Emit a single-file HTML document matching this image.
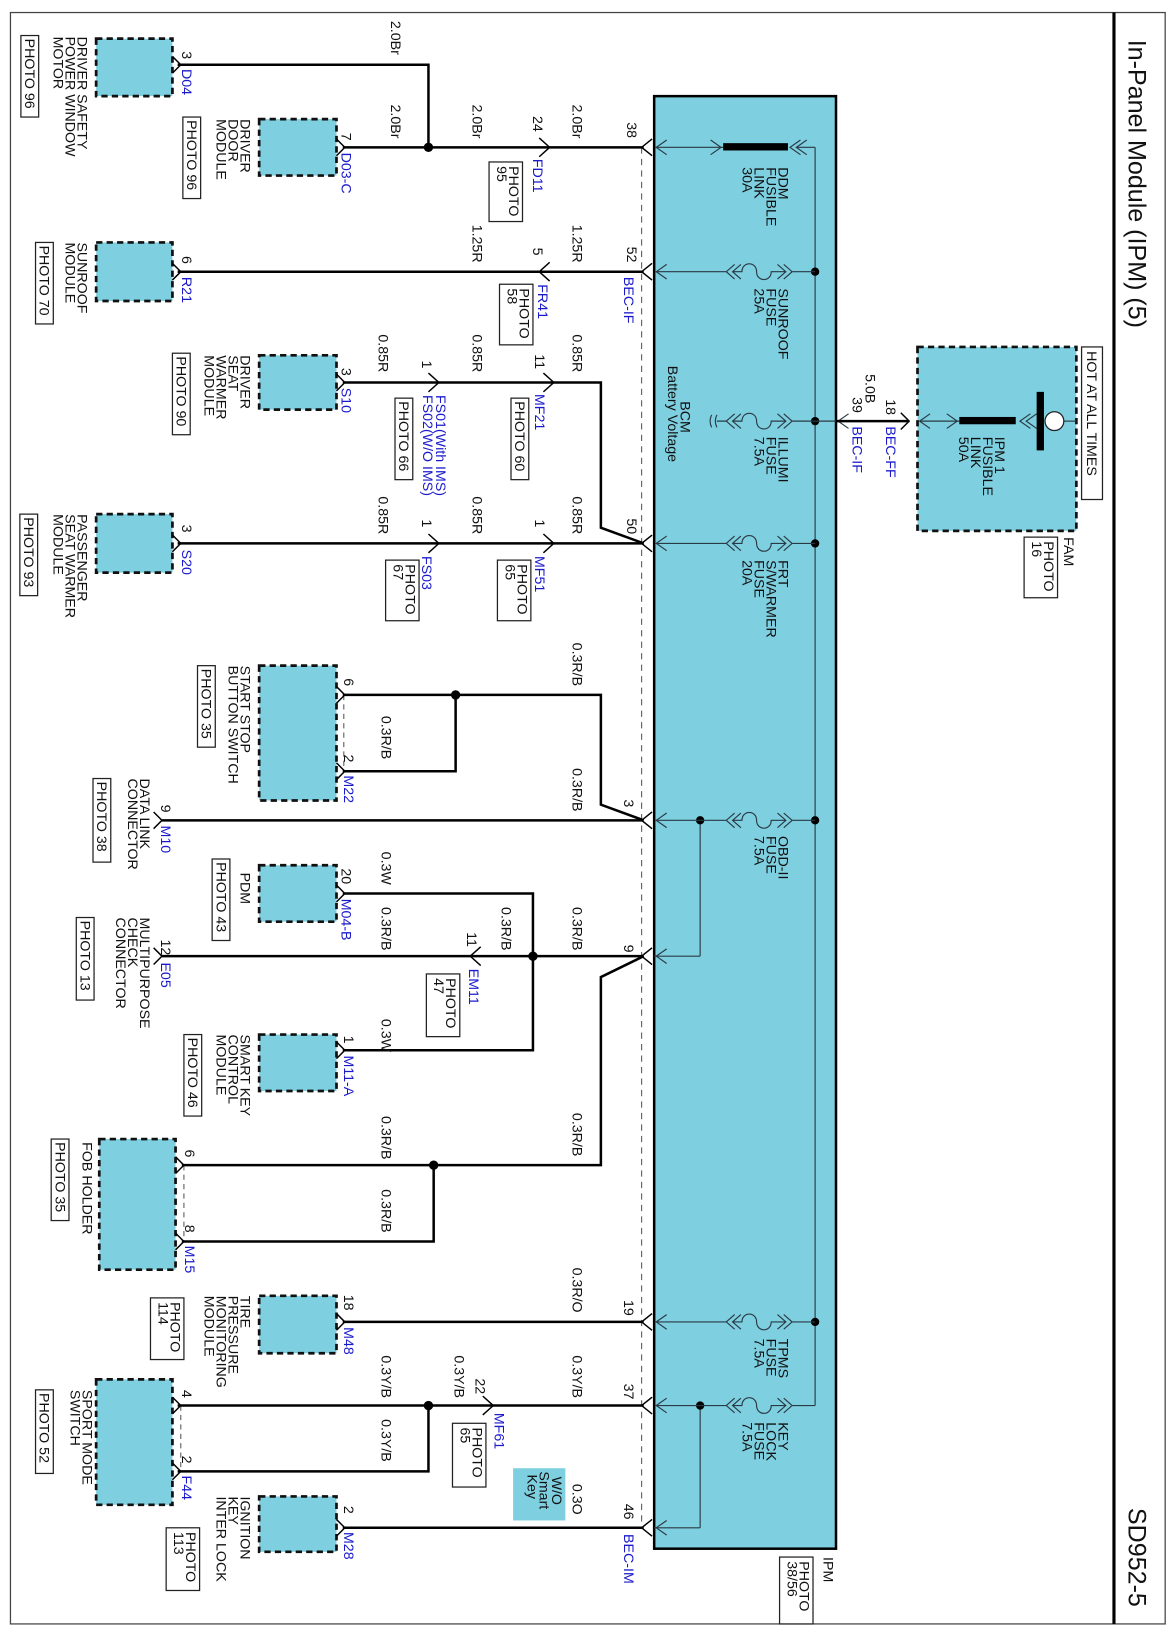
<!DOCTYPE html>
<html><head><meta charset="utf-8"><style>
html,body{margin:0;padding:0;background:#fff;}
svg{display:block;}
text{font-family:"Liberation Sans",sans-serif;font-size:13.6px;fill:#111;}
.b{fill:#1a1acc;}
.w{stroke:#000;stroke-width:2.4;fill:none;}
.tn{stroke:#2a3a44;stroke-width:1.1;fill:none;}
.bx{fill:#7ecfe0;stroke:#111;stroke-width:2.6;stroke-dasharray:6,4;}
.pb{fill:#fff;stroke:#222;stroke-width:1.2;}
.ch{stroke:#000;stroke-width:1.4;fill:none;}
</style></head><body>
<svg width="1172" height="1636" viewBox="0 0 1172 1636" xmlns="http://www.w3.org/2000/svg">
<rect x="0" y="0" width="1172" height="1636" fill="#fff"/>
<g transform="scale(1.045)">
<rect x="10" y="12" width="1105" height="1542" fill="none" stroke="#444" stroke-width="1.2"/>
<line x1="1066" y1="12" x2="1066" y2="1554" stroke="#000" stroke-width="3"/>
<text transform="translate(1080,38) rotate(90)" style="font-size:24px">In-Panel Module (IPM) (5)</text>
<text transform="translate(1080,1443) rotate(90)" style="font-size:24px">SD952-5</text>

<rect x="626" y="92" width="174" height="1390" fill="#7ecfe0" stroke="#000" stroke-width="2.4"/>
<line x1="614" y1="141" x2="614" y2="1462" stroke="#555" stroke-width="1" stroke-dasharray="6,5"/>
<line x1="780" y1="141" x2="780" y2="1345" class="tn"/>
<line x1="670" y1="785" x2="670" y2="915" class="tn"/>
<line x1="670" y1="1345" x2="670" y2="1462" class="tn"/>
<line x1="626" y1="915" x2="670" y2="915" class="tn"/>
<line x1="626" y1="1462" x2="670" y2="1462" class="tn"/>
<g fill="#000">
<circle cx="780" cy="260" r="4"/><circle cx="780" cy="403" r="4"/><circle cx="780" cy="520" r="4"/>
<circle cx="780" cy="785" r="4"/><circle cx="780" cy="1265" r="4"/>
<circle cx="670" cy="785" r="4"/><circle cx="670" cy="1345" r="4"/>
<circle cx="410" cy="141" r="4.5"/><circle cx="436" cy="665" r="4.5"/><circle cx="510" cy="915" r="4.5"/>
<circle cx="415" cy="1115" r="4.5"/><circle cx="410" cy="1345" r="4.5"/>
</g>
<g class="tn">
<polyline points="638,134 628,141 638,148"/><polyline points="638,253 628,260 638,267"/>
<polyline points="638,513 628,520 638,527"/><polyline points="638,778 628,785 638,792"/>
<polyline points="638,908 628,915 638,922"/><polyline points="638,1258 628,1265 638,1272"/>
<polyline points="638,1338 628,1345 638,1352"/><polyline points="638,1455 628,1462 638,1469"/>
</g>
<line x1="628" y1="141" x2="692" y2="141" class="tn"/>
<polyline class="tn" points="680,134 690,141 680,148"/>
<rect x="692" y="137" width="62" height="7" fill="#000"/>
<polyline class="tn" points="766,134 756,141 766,148"/><polyline class="tn" points="772,134 762,141 772,148"/>
<line x1="762" y1="141" x2="780" y2="141" class="tn"/>
<g class="tn">
<path d="M628,260 H695 M703,253 l-8,7 l8,7 M709,253 l-8,7 l8,7 M701,260 H710 C710,250 724,250 724,260 C724,270 738,270 738,260 H752 M744,253 l8,7 l-8,7 M750,253 l8,7 l-8,7 M758,260 H780"/>
<path d="M703,396 l-8,7 l8,7 M709,396 l-8,7 l8,7 M701,403 H710 C710,393 724,393 724,403 C724,413 738,413 738,403 H752 M744,396 l8,7 l-8,7 M750,396 l8,7 l-8,7 M758,403 H800"/>
<path d="M686,397 q-3,6 0,12 M681,397 q-3,6 0,12 M686,403 H695"/>
<path d="M628,520 H695 M703,513 l-8,7 l8,7 M709,513 l-8,7 l8,7 M701,520 H710 C710,510 724,510 724,520 C724,530 738,530 738,520 H752 M744,513 l8,7 l-8,7 M750,513 l8,7 l-8,7 M758,520 H780"/>
<path d="M628,785 H695 M703,778 l-8,7 l8,7 M709,778 l-8,7 l8,7 M701,785 H710 C710,775 724,775 724,785 C724,795 738,795 738,785 H752 M744,778 l8,7 l-8,7 M750,778 l8,7 l-8,7 M758,785 H780"/>
<path d="M628,1265 H695 M703,1258 l-8,7 l8,7 M709,1258 l-8,7 l8,7 M701,1265 H710 C710,1255 724,1255 724,1265 C724,1275 738,1275 738,1265 H752 M744,1258 l8,7 l-8,7 M750,1258 l8,7 l-8,7 M758,1265 H780"/>
<path d="M628,1345 H695 M703,1338 l-8,7 l8,7 M709,1338 l-8,7 l8,7 M701,1345 H710 C710,1335 724,1335 724,1345 C724,1355 738,1355 738,1345 H752 M744,1338 l8,7 l-8,7 M750,1338 l8,7 l-8,7 M758,1345 H780"/>
<polyline points="812,396 802,403 812,410"/>
</g>
<text transform="translate(745,160) rotate(90)"><tspan x="0">DDM</tspan><tspan x="0" dy="11.5">FUSIBLE</tspan><tspan x="0" dy="11.5">LINK</tspan><tspan x="0" dy="11.5">30A</tspan></text>
<text transform="translate(745,276) rotate(90)"><tspan x="0">SUNROOF</tspan><tspan x="0" dy="11.5">FUSE</tspan><tspan x="0" dy="11.5">25A</tspan></text>
<text transform="translate(745,418) rotate(90)"><tspan x="0">ILLUMI</tspan><tspan x="0" dy="11.5">FUSE</tspan><tspan x="0" dy="11.5">7.5A</tspan></text>
<text transform="translate(745,536) rotate(90)"><tspan x="0">FRT</tspan><tspan x="0" dy="11.5">S/WARMER</tspan><tspan x="0" dy="11.5">FUSE</tspan><tspan x="0" dy="11.5">20A</tspan></text>
<text transform="translate(745,800) rotate(90)"><tspan x="0">OBD-II</tspan><tspan x="0" dy="11.5">FUSE</tspan><tspan x="0" dy="11.5">7.5A</tspan></text>
<text transform="translate(745,1281) rotate(90)"><tspan x="0">TPMS</tspan><tspan x="0" dy="11.5">FUSE</tspan><tspan x="0" dy="11.5">7.5A</tspan></text>
<text transform="translate(745,1361) rotate(90)"><tspan x="0">KEY</tspan><tspan x="0" dy="11.5">LOCK</tspan><tspan x="0" dy="11.5">FUSE</tspan><tspan x="0" dy="11.5">7.5A</tspan></text>
<text transform="translate(651,384) rotate(90)">BCM</text>
<text transform="translate(639,350) rotate(90)">Battery Voltage</text>
<text transform="translate(788,1490) rotate(90)">IPM</text>
<rect class="pb" x="746" y="1490" width="32" height="64"/>
<text transform="translate(765,1494) rotate(90)"><tspan x="0">PHOTO</tspan><tspan x="0" dy="11.5">38/56</tspan></text>

<rect class="bx" x="878" y="332" width="152" height="176"/>
<line x1="800" y1="403" x2="870" y2="403" class="w"/>
<polyline class="ch" points="862,395 870,403 862,411"/>
<polyline class="tn" points="890,396 880,403 890,410"/>
<line x1="880" y1="403" x2="918" y2="403" class="tn"/>
<polyline class="tn" points="906,396 916,403 906,410"/>
<rect x="918" y="399" width="54" height="7" fill="#000"/>
<polyline class="tn" points="986,396 976,403 986,410"/><polyline class="tn" points="992,396 982,403 992,410"/>
<rect x="992" y="375" width="7" height="56" fill="#000"/>
<line x1="1018" y1="403" x2="1030" y2="403" class="tn"/>
<circle cx="1009" cy="403" r="9" fill="#fff" stroke="#222" stroke-width="1.2"/>
<text transform="translate(952,418) rotate(90)"><tspan x="0">IPM 1</tspan><tspan x="0" dy="11.5">FUSIBLE</tspan><tspan x="0" dy="11.5">LINK</tspan><tspan x="0" dy="11.5">50A</tspan></text>
<rect class="pb" x="1035" y="332" width="20" height="146"/>
<text transform="translate(1040,336) rotate(90)">HOT AT ALL TIMES</text>
<text transform="translate(1018,514) rotate(90)">FAM</text>
<rect class="pb" x="980" y="514" width="32" height="58"/>
<text transform="translate(999,518) rotate(90)"><tspan x="0">PHOTO</tspan><tspan x="0" dy="11.5">16</tspan></text>
<text transform="translate(848,382) rotate(90)">18</text>
<text transform="translate(848,408) rotate(90)" class="b">BEC-FF</text>
<text transform="translate(828,358) rotate(90)">5.0B</text>
<text transform="translate(816,380) rotate(90)">39</text>
<text transform="translate(816,408) rotate(90)" class="b">BEC-IF</text>

<rect class="bx" x="92" y="37" width="73" height="55"/>
<rect class="bx" x="248" y="114" width="74" height="54"/>
<rect class="bx" x="92" y="232" width="73" height="56"/>
<rect class="bx" x="248" y="340" width="74" height="52"/>
<rect class="bx" x="92" y="492" width="73" height="56"/>
<rect class="bx" x="248" y="637" width="74" height="129"/>
<rect class="bx" x="248" y="828" width="74" height="54"/>
<rect class="bx" x="248" y="990" width="74" height="54"/>
<rect class="bx" x="95" y="1090" width="73" height="125"/>
<rect class="bx" x="248" y="1240" width="74" height="55"/>
<rect class="bx" x="92" y="1320" width="73" height="120"/>
<rect class="bx" x="248" y="1432" width="74" height="53"/>
<g stroke="#555" stroke-width="1" stroke-dasharray="5,4">
<line x1="329" y1="665" x2="329" y2="738"/><line x1="176" y1="1115" x2="176" y2="1188"/><line x1="173" y1="1345" x2="173" y2="1408"/>
</g>

<g class="w">
<path d="M170,62 H410 V141"/>
<path d="M328,141 H616"/>
<path d="M170,260 H616"/>
<path d="M328,366 H575 V505 L616,520"/>
<path d="M170,520 H616"/>
<path d="M328,665 H575 V770 L616,785"/>
<path d="M328,738 H436 V665"/>
<path d="M155,785 H616"/>
<path d="M328,855 H510 V1005 H328"/>
<path d="M155,915 H616"/>
<path d="M616,915 L575,935 V1115 H174"/>
<path d="M174,1188 H415 V1115"/>
<path d="M328,1265 H616"/>
<path d="M170,1345 H616"/>
<path d="M170,1408 H410 V1345"/>
<path d="M328,1462 H616"/>
</g>
<g class="ch">
<polyline points="165,54 173,62 165,70"/><polyline points="322,133 330,141 322,149"/>
<polyline points="165,252 173,260 165,268"/><polyline points="322,358 330,366 322,374"/>
<polyline points="165,512 173,520 165,528"/><polyline points="322,657 330,665 322,673"/>
<polyline points="322,730 330,738 322,746"/><polyline points="147,777 155,785 147,793"/>
<polyline points="322,847 330,855 322,863"/><polyline points="147,907 155,915 147,923"/>
<polyline points="322,997 330,1005 322,1013"/><polyline points="168,1107 176,1115 168,1123"/>
<polyline points="168,1180 176,1188 168,1196"/><polyline points="322,1257 330,1265 322,1273"/>
<polyline points="165,1337 173,1345 165,1353"/><polyline points="165,1400 173,1408 165,1416"/>
<polyline points="322,1454 330,1462 322,1470"/>
<polyline points="624,133 614,141 624,149"/><polyline points="624,252 614,260 624,268"/>
<polyline points="624,512 614,520 624,528"/><polyline points="624,777 614,785 624,793"/>
<polyline points="624,907 614,915 624,923"/><polyline points="624,1257 614,1265 624,1273"/>
<polyline points="624,1337 614,1345 624,1353"/><polyline points="624,1454 614,1462 624,1470"/>
<polyline points="516,132 526,141 516,150"/>
<polyline points="526,251 516,260 526,269"/>
<polyline points="410,357 420,366 410,375"/>
<polyline points="520,357 530,366 520,375"/>
<polyline points="410,511 420,520 410,529"/>
<polyline points="520,511 530,520 520,529"/>
<polyline points="460,906 450,915 460,924"/>
<polyline points="462,1336 472,1345 462,1354"/>
</g>

<text transform="translate(374,20) rotate(90)">2.0Br</text>
<text transform="translate(374,100) rotate(90)">2.0Br</text>
<text transform="translate(452,100) rotate(90)">2.0Br</text>
<text transform="translate(548,100) rotate(90)">2.0Br</text>
<text transform="translate(452,215) rotate(90)">1.25R</text>
<text transform="translate(548,215) rotate(90)">1.25R</text>
<text transform="translate(362,320) rotate(90)">0.85R</text>
<text transform="translate(452,320) rotate(90)">0.85R</text>
<text transform="translate(548,320) rotate(90)">0.85R</text>
<text transform="translate(362,475) rotate(90)">0.85R</text>
<text transform="translate(452,475) rotate(90)">0.85R</text>
<text transform="translate(548,475) rotate(90)">0.85R</text>
<text transform="translate(548,615) rotate(90)">0.3R/B</text>
<text transform="translate(365,685) rotate(90)">0.3R/B</text>
<text transform="translate(548,735) rotate(90)">0.3R/B</text>
<text transform="translate(365,815) rotate(90)">0.3W</text>
<text transform="translate(365,868) rotate(90)">0.3R/B</text>
<text transform="translate(480,868) rotate(90)">0.3R/B</text>
<text transform="translate(548,868) rotate(90)">0.3R/B</text>
<text transform="translate(365,975) rotate(90)">0.3W</text>
<text transform="translate(548,1065) rotate(90)">0.3R/B</text>
<text transform="translate(365,1068) rotate(90)">0.3R/B</text>
<text transform="translate(365,1138) rotate(90)">0.3R/B</text>
<text transform="translate(548,1213) rotate(90)">0.3R/O</text>
<text transform="translate(365,1297) rotate(90)">0.3Y/B</text>
<text transform="translate(435,1297) rotate(90)">0.3Y/B</text>
<text transform="translate(548,1297) rotate(90)">0.3Y/B</text>
<text transform="translate(365,1358) rotate(90)">0.3Y/B</text>
<text transform="translate(548,1420) rotate(90)">0.3O</text>

<text transform="translate(174,49) rotate(90)">3</text>
<text transform="translate(327,127) rotate(90)">7</text>
<text transform="translate(510,111) rotate(90)">24</text>
<text transform="translate(600,117) rotate(90)">38</text>
<text transform="translate(174,245) rotate(90)">6</text>
<text transform="translate(510,237) rotate(90)">5</text>
<text transform="translate(600,236) rotate(90)">52</text>
<text transform="translate(327,352) rotate(90)">3</text>
<text transform="translate(404,345) rotate(90)">1</text>
<text transform="translate(512,339) rotate(90)">11</text>
<text transform="translate(600,496) rotate(90)">50</text>
<text transform="translate(174,502) rotate(90)">3</text>
<text transform="translate(404,497) rotate(90)">1</text>
<text transform="translate(512,497) rotate(90)">1</text>
<text transform="translate(329,649) rotate(90)">6</text>
<text transform="translate(329,722) rotate(90)">2</text>
<text transform="translate(154,770) rotate(90)">9</text>
<text transform="translate(597,765) rotate(90)">3</text>
<text transform="translate(327,831) rotate(90)">20</text>
<text transform="translate(447,892) rotate(90)">11</text>
<text transform="translate(154,899) rotate(90)">12</text>
<text transform="translate(597,904) rotate(90)">9</text>
<text transform="translate(329,991) rotate(90)">1</text>
<text transform="translate(177,1100) rotate(90)">6</text>
<text transform="translate(177,1172) rotate(90)">8</text>
<text transform="translate(329,1239) rotate(90)">18</text>
<text transform="translate(597,1244) rotate(90)">19</text>
<text transform="translate(174,1330) rotate(90)">4</text>
<text transform="translate(174,1393) rotate(90)">2</text>
<text transform="translate(455,1319) rotate(90)">22</text>
<text transform="translate(597,1324) rotate(90)">37</text>
<text transform="translate(329,1441) rotate(90)">2</text>
<text transform="translate(597,1439) rotate(90)">46</text>

<g>
<text class="b" transform="translate(174,66) rotate(90)">D04</text>
<text class="b" transform="translate(327,146) rotate(90)">D03-C</text>
<text class="b" transform="translate(510,152) rotate(90)">FD11</text>
<text class="b" transform="translate(174,265) rotate(90)">R21</text>
<text class="b" transform="translate(515,272) rotate(90)">FR41</text>
<text class="b" transform="translate(597,265) rotate(90)">BEC-IF</text>
<text class="b" transform="translate(327,371) rotate(90)">S10</text>
<text class="b" transform="translate(417,378) rotate(90)">FS01(With IMS)</text>
<text class="b" transform="translate(405,378) rotate(90)">FS02(W/O IMS)</text>
<text class="b" transform="translate(512,377) rotate(90)">MF21</text>
<text class="b" transform="translate(174,526) rotate(90)">S20</text>
<text class="b" transform="translate(404,532) rotate(90)">FS03</text>
<text class="b" transform="translate(512,532) rotate(90)">MF51</text>
<text class="b" transform="translate(329,742) rotate(90)">M22</text>
<text class="b" transform="translate(154,790) rotate(90)">M10</text>
<text class="b" transform="translate(327,860) rotate(90)">M04-B</text>
<text class="b" transform="translate(449,927) rotate(90)">EM11</text>
<text class="b" transform="translate(154,921) rotate(90)">E05</text>
<text class="b" transform="translate(329,1010) rotate(90)">M11-A</text>
<text class="b" transform="translate(177,1192) rotate(90)">M15</text>
<text class="b" transform="translate(329,1270) rotate(90)">M48</text>
<text class="b" transform="translate(174,1412) rotate(90)">F44</text>
<text class="b" transform="translate(473,1352) rotate(90)">MF61</text>
<text class="b" transform="translate(329,1466) rotate(90)">M28</text>
<text class="b" transform="translate(597,1468) rotate(90)">BEC-IM</text>
</g>

<text transform="translate(74,35) rotate(90)"><tspan x="0">DRIVER SAFETY</tspan><tspan x="0" dy="11.5">POWER WINDOW</tspan><tspan x="0" dy="11.5">MOTOR</tspan></text>
<rect class="pb" x="20" y="34" width="17" height="78"/><text transform="translate(24,37) rotate(90)">PHOTO 96</text>

<text transform="translate(230,114) rotate(90)"><tspan x="0">DRIVER</tspan><tspan x="0" dy="11.5">DOOR</tspan><tspan x="0" dy="11.5">MODULE</tspan></text>
<rect class="pb" x="175" y="112" width="17" height="78"/><text transform="translate(179,115) rotate(90)">PHOTO 96</text>

<rect class="pb" x="468" y="155" width="32" height="57"/><text transform="translate(487,159) rotate(90)"><tspan x="0">PHOTO</tspan><tspan x="0" dy="11.5">95</tspan></text>

<text transform="translate(74,232) rotate(90)"><tspan x="0">SUNROOF</tspan><tspan x="0" dy="11.5">MODULE</tspan></text>
<rect class="pb" x="34" y="232" width="17" height="78"/><text transform="translate(38,235) rotate(90)">PHOTO 70</text>

<rect class="pb" x="478" y="272" width="32" height="58"/><text transform="translate(497,276) rotate(90)"><tspan x="0">PHOTO</tspan><tspan x="0" dy="11.5">58</tspan></text>

<text transform="translate(230,340) rotate(90)"><tspan x="0">DRIVER</tspan><tspan x="0" dy="11.5">SEAT</tspan><tspan x="0" dy="11.5">WARMER</tspan><tspan x="0" dy="11.5">MODULE</tspan></text>
<rect class="pb" x="165" y="338" width="17" height="78"/><text transform="translate(169,341) rotate(90)">PHOTO 90</text>

<rect class="pb" x="378" y="381" width="17" height="78"/><text transform="translate(382,384) rotate(90)">PHOTO 66</text>
<rect class="pb" x="489" y="381" width="17" height="78"/><text transform="translate(493,384) rotate(90)">PHOTO 60</text>

<text transform="translate(74,492) rotate(90)"><tspan x="0">PASSENGER</tspan><tspan x="0" dy="11.5">SEAT WARMER</tspan><tspan x="0" dy="11.5">MODULE</tspan></text>
<rect class="pb" x="19" y="492" width="17" height="78"/><text transform="translate(23,495) rotate(90)">PHOTO 93</text>

<rect class="pb" x="369" y="536" width="32" height="58"/><text transform="translate(388,540) rotate(90)"><tspan x="0">PHOTO</tspan><tspan x="0" dy="11.5">67</tspan></text>
<rect class="pb" x="476" y="536" width="32" height="58"/><text transform="translate(495,540) rotate(90)"><tspan x="0">PHOTO</tspan><tspan x="0" dy="11.5">65</tspan></text>

<text transform="translate(230,637) rotate(90)"><tspan x="0">START STOP</tspan><tspan x="0" dy="11.5">BUTTON SWITCH</tspan></text>
<rect class="pb" x="189" y="637" width="17" height="78"/><text transform="translate(193,640) rotate(90)">PHOTO 35</text>

<text transform="translate(134,745) rotate(90)"><tspan x="0">DATA LINK</tspan><tspan x="0" dy="11.5">CONNECTOR</tspan></text>
<rect class="pb" x="89" y="745" width="17" height="80"/><text transform="translate(93,748) rotate(90)">PHOTO 38</text>

<text transform="translate(230,835) rotate(90)">PDM</text>
<rect class="pb" x="203" y="822" width="17" height="78"/><text transform="translate(207,825) rotate(90)">PHOTO 43</text>

<text transform="translate(134,878) rotate(90)"><tspan x="0">MULTIPURPOSE</tspan><tspan x="0" dy="11.5">CHECK</tspan><tspan x="0" dy="11.5">CONNECTOR</tspan></text>
<rect class="pb" x="73" y="878" width="17" height="79"/><text transform="translate(77,881) rotate(90)">PHOTO 13</text>

<rect class="pb" x="408" y="932" width="32" height="60"/><text transform="translate(427,936) rotate(90)"><tspan x="0">PHOTO</tspan><tspan x="0" dy="11.5">47</tspan></text>

<text transform="translate(230,990) rotate(90)"><tspan x="0">SMART KEY</tspan><tspan x="0" dy="11.5">CONTROL</tspan><tspan x="0" dy="11.5">MODULE</tspan></text>
<rect class="pb" x="176" y="990" width="17" height="78"/><text transform="translate(180,993) rotate(90)">PHOTO 46</text>

<text transform="translate(79,1093) rotate(90)">FOB HOLDER</text>
<rect class="pb" x="49" y="1090" width="17" height="78"/><text transform="translate(53,1093) rotate(90)">PHOTO 35</text>

<text transform="translate(230,1240) rotate(90)"><tspan x="0">TIRE</tspan><tspan x="0" dy="11.5">PRESSURE</tspan><tspan x="0" dy="11.5">MONITORING</tspan><tspan x="0" dy="11.5">MODULE</tspan></text>
<rect class="pb" x="144" y="1242" width="32" height="59"/><text transform="translate(163,1246) rotate(90)"><tspan x="0">PHOTO</tspan><tspan x="0" dy="11.5">114</tspan></text>

<text transform="translate(79,1330) rotate(90)"><tspan x="0">SPORT MODE</tspan><tspan x="0" dy="11.5">SWITCH</tspan></text>
<rect class="pb" x="34" y="1330" width="17" height="80"/><text transform="translate(38,1333) rotate(90)">PHOTO 52</text>

<rect class="pb" x="433" y="1362" width="32" height="61"/><text transform="translate(452,1366) rotate(90)"><tspan x="0">PHOTO</tspan><tspan x="0" dy="11.5">65</tspan></text>

<rect x="491" y="1405" width="50" height="50" fill="#7ecfe0"/>
<text transform="translate(528,1413) rotate(90)"><tspan x="0">W/O</tspan><tspan x="-5" dy="11.5">Smart</tspan><tspan x="-2" dy="11.5">Key</tspan></text>

<text transform="translate(230,1432) rotate(90)"><tspan x="0">IGNITION</tspan><tspan x="0" dy="11.5">KEY</tspan><tspan x="0" dy="11.5">INTER LOCK</tspan></text>
<rect class="pb" x="159" y="1462" width="32" height="60"/><text transform="translate(178,1466) rotate(90)"><tspan x="0">PHOTO</tspan><tspan x="0" dy="11.5">113</tspan></text>
</g>
</svg>
</body></html>
